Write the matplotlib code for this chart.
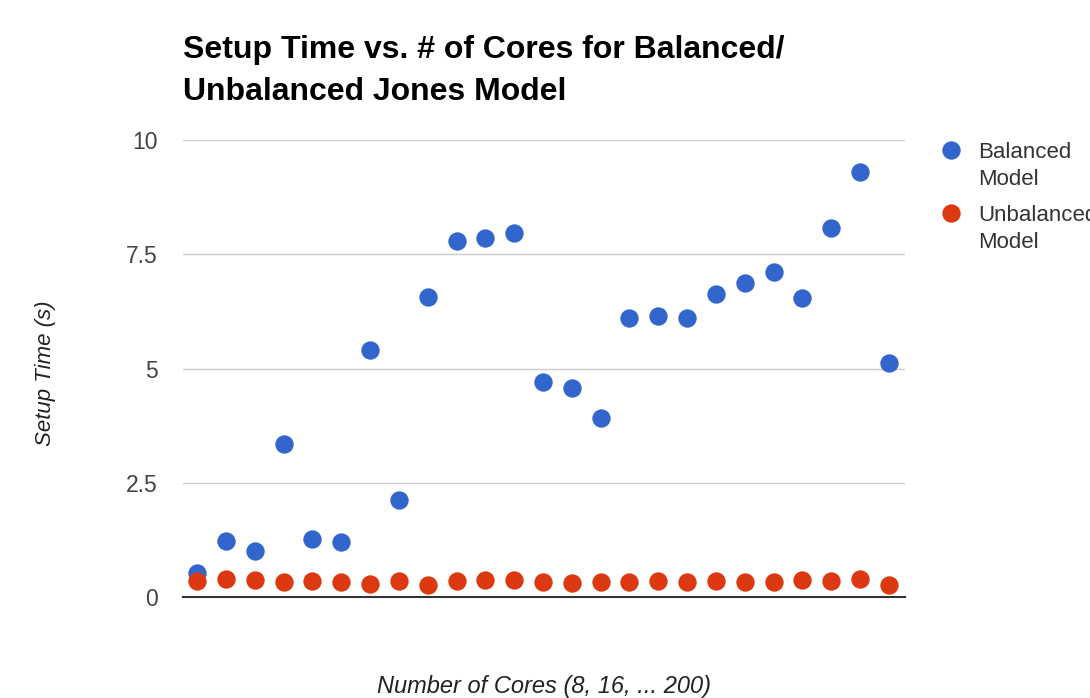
import matplotlib.pyplot as plt
from matplotlib.collections import PathCollection
from matplotlib.legend_handler import HandlerPathCollection

plt.rcParams['font.family'] = ['Liberation Sans', 'DejaVu Sans']

# Datos
nucleos = list(range(8, 201, 8))
balanceado = [0.52, 1.22, 1.00, 3.35, 1.27, 1.20, 5.40, 2.12, 6.56, 7.79, 7.86, 7.96, 4.70,
              4.57, 3.92, 6.10, 6.15, 6.10, 6.63, 6.87, 7.11, 6.54, 8.07, 9.30, 5.12]
desbalanceado = [0.35, 0.39, 0.38, 0.33, 0.34, 0.33, 0.28, 0.36, 0.27, 0.35, 0.38, 0.38, 0.33,
                 0.31, 0.33, 0.32, 0.34, 0.33, 0.35, 0.33, 0.32, 0.37, 0.35, 0.39, 0.27]
ticks_y = [0, 2.5, 5, 7.5, 10]
etiquetas_y = ['0', '2.5', '5', '7.5', '10']

fig = plt.figure(figsize=(10.9, 6.98), dpi=100)
ax = fig.add_axes([0.168, 0.1447, 0.662, 0.6547])

ax.scatter(nucleos, balanceado, s=175, color='#3366cc', label='Balanced\nModel', zorder=3, linewidths=0)
ax.scatter(nucleos, desbalanceado, s=175, color='#dc3912', label='Unbalanced\nModel', zorder=4, linewidths=0)

ax.set_xlim(4.1, 204.4)
ax.set_ylim(0, 10)
ax.set_yticks(ticks_y)
ax.set_yticklabels(etiquetas_y)
ax.set_xticks([])
ax.tick_params(axis='y', length=0, pad=18, labelsize=16.5, labelcolor='#444444')
ax.grid(axis='y', color='#cccccc', linewidth=1)
ax.set_axisbelow(True)
for lado in ['top', 'right', 'left']:
    ax.spines[lado].set_visible(False)
ax.spines['bottom'].set_color('#333333')
ax.spines['bottom'].set_linewidth(1.5)
ax.spines['bottom'].set_zorder(2)

ax.set_ylabel('Setup Time (s)', fontsize=16, style='italic', color='#222222')
ax.yaxis.set_label_coords(-0.176, 0.49)
fig.text(544 / 1090, 1 - 686 / 698, 'Number of Cores (8, 16, ... 200)', fontsize=17,
         style='italic', color='#222222', ha='center', va='center')

fig.text(183 / 1090, 1 - 35 / 698, 'Setup Time vs. # of Cores for Balanced/\nUnbalanced Jones Model',
         fontsize=23, fontweight='bold', color='#000000', ha='left', va='top', linespacing=1.52)

# el punto de la leyenda va alineado con la primera linea del texto
leyenda = ax.legend(loc='upper left', bbox_to_anchor=(931 / 1090, 1 - 133 / 698),
                    bbox_transform=fig.transFigure, frameon=False, fontsize=16, labelcolor='#333333',
                    handlelength=1.0, handletextpad=0.72, labelspacing=0.65, borderaxespad=0,
                    handler_map={PathCollection: HandlerPathCollection(yoffsets=[1.535])})
for t in leyenda.get_texts():
    t.set_linespacing(1.4)

fig.savefig('out.png', dpi=100)
